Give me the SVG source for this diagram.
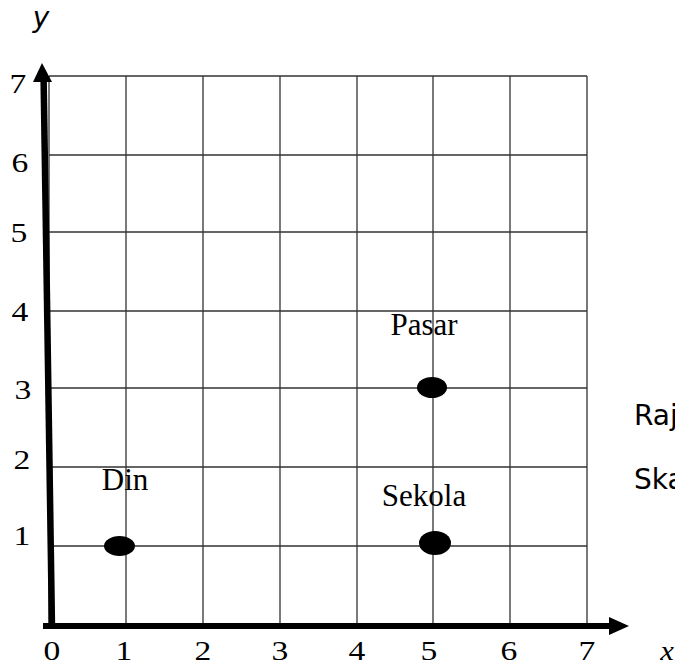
<svg xmlns="http://www.w3.org/2000/svg" width="675" height="666" viewBox="0 0 675 666">
<style>
.grid{stroke:#333;stroke-width:1.3;fill:none}
.num{font-family:"Liberation Serif","Times New Roman",serif;font-size:28px;fill:#000}
.lbl{font-family:"Liberation Serif","Times New Roman",serif;font-size:31px;fill:#000}
.sans{font-family:"DejaVu Sans",sans-serif;font-size:28px;fill:#000}
.dot{fill:#000}
</style>
<rect width="675" height="666" fill="#fff"/>
<g id="grid" class="grid">
<path d="M49 76H587M49 155H587M49 232H587M49 311H587M49 388H587M49 467H587M49 546H587"/>
<path d="M49 76V626M126 76V626M203 76V626M280 76V626M357 76V626M433 76V626M510 76V626M587 76V626"/>
</g>
<g id="connectors">
<line x1="43.6" y1="78" x2="52" y2="628" stroke="#000" stroke-width="6.5"/>
<polygon points="42,63 33,82 52,82" fill="#000"/>
<line x1="43" y1="626" x2="612" y2="626" stroke="#000" stroke-width="6"/>
<polygon points="629,626 609,617 609,635" fill="#000"/>
</g>
<g id="axis-labels">
<text class="num" transform="translate(18,93) scale(1.2,1)" text-anchor="middle">7</text>
<text class="num" transform="translate(20,172) scale(1.2,1)" text-anchor="middle">6</text>
<text class="num" transform="translate(19,242) scale(1.2,1)" text-anchor="middle">5</text>
<text class="num" transform="translate(20,321) scale(1.2,1)" text-anchor="middle">4</text>
<text class="num" transform="translate(23,399) scale(1.2,1)" text-anchor="middle">3</text>
<text class="num" transform="translate(22,469) scale(1.2,1)" text-anchor="middle">2</text>
<text class="num" transform="translate(22,545) scale(1.2,1)" text-anchor="middle">1</text>
<text class="num" transform="translate(52,660) scale(1.2,1)" text-anchor="middle">0</text>
<text class="num" transform="translate(124,660) scale(1.2,1)" text-anchor="middle">1</text>
<text class="num" transform="translate(203,660) scale(1.2,1)" text-anchor="middle">2</text>
<text class="num" transform="translate(280,660) scale(1.2,1)" text-anchor="middle">3</text>
<text class="num" transform="translate(357,660) scale(1.2,1)" text-anchor="middle">4</text>
<text class="num" transform="translate(429,660) scale(1.2,1)" text-anchor="middle">5</text>
<text class="num" transform="translate(509,660) scale(1.2,1)" text-anchor="middle">6</text>
<text class="num" transform="translate(587,660) scale(1.2,1)" text-anchor="middle">7</text>
<text class="num" transform="translate(667,660) scale(1.1,1)" text-anchor="middle" font-style="italic">x</text>
<text class="sans" x="41" y="27" text-anchor="middle" font-style="italic">y</text>
</g>
<g id="pasar">
<text class="lbl" x="424" y="335" text-anchor="middle">Pasar</text>
<ellipse class="dot" cx="432" cy="387.5" rx="15" ry="10.5"/>
</g>
<g id="din">
<text class="lbl" x="125" y="490" text-anchor="middle">Din</text>
<ellipse class="dot" cx="119.5" cy="546" rx="15.5" ry="10"/>
</g>
<g id="sekola">
<text class="lbl" x="424" y="506" text-anchor="middle">Sekola</text>
<ellipse class="dot" cx="435" cy="543" rx="16" ry="12"/>
</g>
<g id="side-text">
<text class="sans" x="634" y="425">Raj</text>
<text class="sans" x="634" y="489">Ska</text>
</g>
</svg>
